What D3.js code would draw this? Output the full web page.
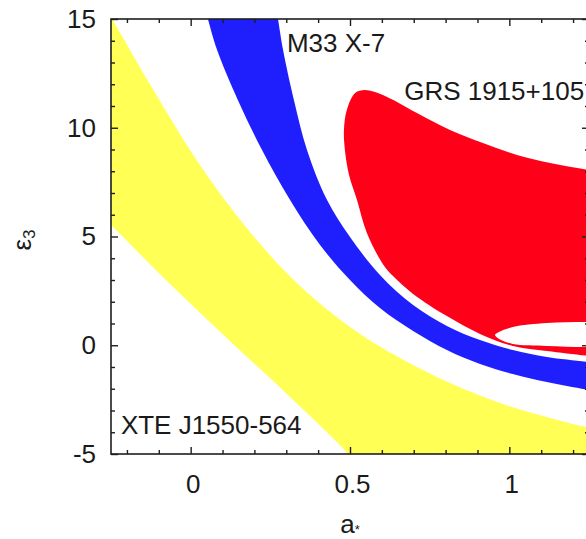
<!DOCTYPE html>
<html><head><meta charset="utf-8">
<script src="https://cdn.jsdelivr.net/npm/d3@7"></script>
<style>html,body{margin:0;padding:0;background:#fff;overflow:hidden}</style>
</head><body><svg id="c" width="586" height="539"></svg>
<script>
// ---- data (a*, epsilon_3) ----
const xTickValues = [0, 0.5, 1];
const xTickLabels = ["0", "0.5", "1"];
const xMinorTicks = [-0.2, -0.1, 0.1, 0.2, 0.3, 0.4, 0.6, 0.7, 0.8, 0.9, 1.1, 1.2];
const yTickValues = [-5, 0, 5, 10, 15];
const yTickLabels = ["-5", "0", "5", "10", "15"];
const yMinorTicks = [-4, -3, -2, -1, 1, 2, 3, 4, 6, 7, 8, 9, 11, 12, 13, 14];

// XTE J1550-564 (yellow band)
const xteUpper = [[-0.27,15.5],[-0.247,15],[-0.128,12.01],[0.029,8.29],[0.186,5.21],[0.343,2.72],[0.500,0.84],[0.657,-0.59],[0.814,-1.74],[0.971,-2.66],[1.128,-3.34],[1.25,-3.80],[1.3,-3.95]];
const xteLower = [[-0.27,5.8],[-0.247,5.48],[-0.065,2.82],[0.123,0.20],[0.312,-2.38],[0.494,-5],[0.52,-5.55]];

// M33 X-7 (blue band)
const m33Outer = [[0.044,15.5],[0.054,15],[0.083,13.57],[0.148,11.28],[0.224,8.98],[0.312,6.68],[0.406,4.61],[0.500,3.00],[0.594,1.71],[0.698,0.66],[0.804,-0.22],[0.908,-0.86],[1.011,-1.32],[1.118,-1.69],[1.25,-2.06],[1.3,-2.2]];
const m33Inner = [[0.268,15.5],[0.274,15],[0.290,13.57],[0.324,11.28],[0.365,8.98],[0.428,6.68],[0.500,4.98],[0.594,3.23],[0.698,1.85],[0.804,0.89],[0.908,0.24],[1.011,-0.22],[1.118,-0.54],[1.25,-0.77],[1.3,-0.86]];

// GRS 1915+105 (red region): lower edge right->left, then left/top edge left->right
const grsBoundary = [[1.32,-0.6],[1.25,-0.49],[1.118,-0.26],[1.011,-0.03],[0.908,0.52],[0.804,1.34],[0.698,2.36],[0.635,3.18],[0.603,3.74],[0.553,5.16],[0.522,6.68],[0.497,7.83],[0.484,8.98],[0.481,9.90],[0.490,10.82],[0.516,11.60],[0.547,11.74],[0.603,11.51],[0.710,10.68],[0.814,9.90],[0.917,9.30],[1.024,8.75],[1.128,8.38],[1.25,8.06],[1.32,7.9]];
// excluded island inside the red region
const grsHole = [[0.955,0.47],[0.971,0.63],[1.011,0.84],[1.118,1.02],[1.241,1.07],[1.41,1.02],[1.473,0.47],[1.41,-0.08],[1.241,-0.08],[1.118,-0.03],[1.011,0.06],[0.971,0.26]];

const labels = [
  {text:"M33 X-7", x:0.302, y:13.5},
  {text:"GRS 1915+105", x:0.670, y:11.28},
  {text:"XTE J1550-564", x:-0.219, y:-4.1}
];

// ---- layout ----
const m = {left:111, top:19, right:589, bottom:454};
const x = d3.scaleLinear().domain([-0.25, 1.25]).range([m.left, m.right]);
const y = d3.scaleLinear().domain([-5, 15]).range([m.bottom, m.top]);
const FONT = "'Liberation Sans', Arial, Helvetica, sans-serif";

const svg = d3.select("#c");
svg.append("defs").append("clipPath").attr("id","clip")
  .append("rect").attr("x",m.left).attr("y",m.top)
  .attr("width",m.right-m.left).attr("height",m.bottom-m.top);

const curve = d3.line().x(d=>x(d[0])).y(d=>y(d[1])).curve(d3.curveCatmullRom.alpha(0.5));
const closed = d3.line().x(d=>x(d[0])).y(d=>y(d[1])).curve(d3.curveCatmullRomClosed.alpha(0.5));
const P = (a,b)=>x(a)+","+y(b);

const g = svg.append("g").attr("clip-path","url(#clip)");

// yellow
const yellowD = curve(xteUpper) + "L" + P(1.3,-6) + "L" + P(0.52,-6) +
  "L" + curve(xteLower.slice().reverse()).slice(1) + "L" + P(-0.3,5.9) + "L" + P(-0.3,15.5) + "Z";
g.append("path").attr("d", yellowD).attr("fill", "#ffff55");

// blue
const blueD = curve(m33Outer) + "L" + curve(m33Inner.slice().reverse()).slice(1) + "Z";
g.append("path").attr("d", blueD).attr("fill", "#1f1ffe");

// red
g.append("path").attr("d", curve(grsBoundary) + "Z").attr("fill", "#ff0019");
g.append("path").attr("d", closed(grsHole)).attr("fill", "#ffffff");

// ---- axes ----
const axisColor = "#1e1e1e";
function styleAxis(sel){
  sel.select(".domain").remove();
  sel.selectAll("line").attr("stroke", axisColor).attr("stroke-width", 1.4);
  sel.selectAll("text").attr("font-family", FONT).attr("font-size", 26).attr("fill", "#1a1a1a");
}
// bottom
svg.append("g").attr("transform",`translate(0,${m.bottom})`)
  .call(d3.axisBottom(x).tickValues(xMinorTicks).tickSize(-4).tickFormat("")).call(styleAxis);
svg.append("g").attr("transform",`translate(0,${m.bottom})`)
  .call(d3.axisBottom(x).tickValues(xTickValues).tickSize(-7).tickPadding(21)
    .tickFormat((d,i)=>xTickLabels[i])).call(styleAxis)
  .selectAll("text").attr("dx", 2);
// top
svg.append("g").attr("transform",`translate(0,${m.top})`)
  .call(d3.axisTop(x).tickValues(xMinorTicks).tickSize(-4).tickFormat("")).call(styleAxis);
svg.append("g").attr("transform",`translate(0,${m.top})`)
  .call(d3.axisTop(x).tickValues(xTickValues).tickSize(-7).tickFormat("")).call(styleAxis);
// left
svg.append("g").attr("transform",`translate(${m.left},0)`)
  .call(d3.axisLeft(y).tickValues(yMinorTicks).tickSize(-4).tickFormat("")).call(styleAxis);
svg.append("g").attr("transform",`translate(${m.left},0)`)
  .call(d3.axisLeft(y).tickValues(yTickValues).tickSize(-7).tickPadding(15)
    .tickFormat((d,i)=>yTickLabels[i])).call(styleAxis);
// right
svg.append("g").attr("transform",`translate(${m.right},0)`)
  .call(d3.axisRight(y).tickValues(yMinorTicks).tickSize(-4).tickFormat("")).call(styleAxis);
svg.append("g").attr("transform",`translate(${m.right},0)`)
  .call(d3.axisRight(y).tickValues(yTickValues).tickSize(-7).tickFormat("")).call(styleAxis);

// frame
svg.append("rect").attr("x",m.left).attr("y",m.top)
  .attr("width",m.right-m.left).attr("height",m.bottom-m.top)
  .attr("fill","none").attr("stroke",axisColor).attr("stroke-width",1.6);

// region labels
svg.selectAll("text.reg").data(labels).enter().append("text").attr("class","reg")
  .attr("x", d=>x(d.x)).attr("y", d=>y(d.y))
  .attr("font-family", FONT).attr("font-size", 26).attr("fill", "#1a1a1a")
  .text(d=>d.text);

// axis titles
const xt = svg.append("text").attr("x", 350).attr("y", 533).attr("text-anchor","middle")
  .attr("font-family", FONT).attr("font-size", 26).attr("fill", "#1a1a1a");
xt.append("tspan").text("a");
xt.append("tspan").attr("font-size", 13).attr("dy", 1).text("*");

const yt = svg.append("text").attr("transform","translate(31,240) rotate(-90)")
  .attr("text-anchor","middle").attr("font-family", FONT).attr("font-size", 26).attr("fill", "#1a1a1a");
yt.append("tspan").text("ε");
yt.append("tspan").attr("font-size", 17).attr("dy", 4).text("3");
</script>
</body></html>
